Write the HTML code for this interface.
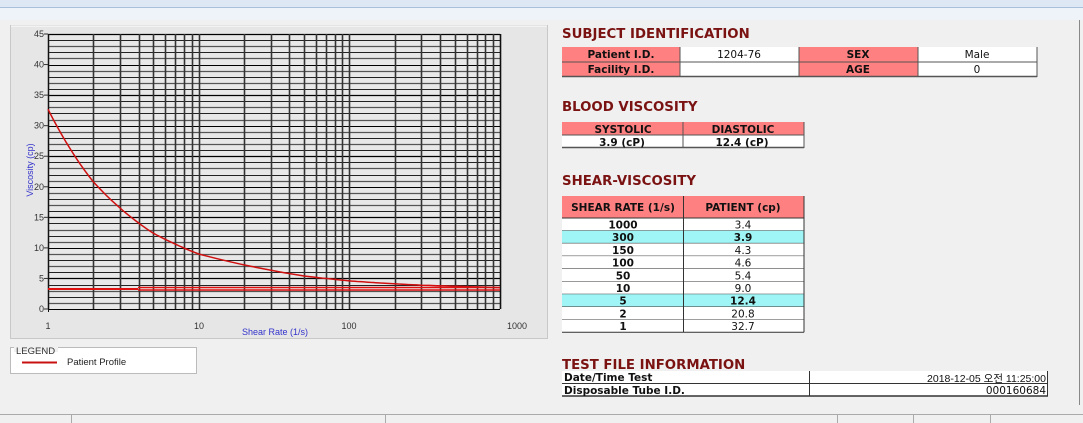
<!DOCTYPE html>
<html><head><meta charset="utf-8"><style>
html,body{margin:0;padding:0;background:#f0f0f0;}
svg{display:block;}
.t{font-family:"DejaVu Sans",Verdana,sans-serif;font-weight:bold;fill:#7a1212;font-size:13.3px;}
.c{font-family:"DejaVu Sans",Verdana,sans-serif;font-size:10.5px;fill:#111;}
.b{font-weight:bold;}
.ax{font-family:"Liberation Sans",sans-serif;font-size:9px;fill:#333;}
</style></head><body>
<svg width="1083" height="423" xmlns="http://www.w3.org/2000/svg">
<rect x="0" y="0" width="1083" height="8" fill="#dde8f4"/>
<line x1="0" y1="7.5" x2="1083" y2="7.5" stroke="#a9c0da"/>
<rect x="0" y="8" width="1083" height="12" fill="#eef3f9"/>
<rect x="0" y="20" width="1083" height="395" fill="#f0f0f0"/>
<line x1="1079.5" y1="20" x2="1079.5" y2="405" stroke="#888"/>
<!-- chart panel -->
<rect x="10.5" y="25.5" width="537" height="313" fill="#e6e6e6" stroke="#c8c8c8"/>
<line x1="11" y1="26" x2="547" y2="26" stroke="#fff"/>
<rect x="48" y="34" width="452" height="275" fill="#e8e8e8"/>
<g id="grid"></g>
<g class="ax" text-anchor="end" id="ylab"></g>
<g class="ax" text-anchor="middle">
<text x="48" y="329">1</text><text x="199" y="329">10</text><text x="349" y="329">100</text><text x="527" y="329" text-anchor="end">1000</text>
</g>
<text x="275" y="335" font-family="Liberation Sans,sans-serif" font-size="9" fill="#3333cc" text-anchor="middle">Shear Rate (1/s)</text>
<text transform="translate(33,170) rotate(-90)" font-family="Liberation Sans,sans-serif" font-size="9" fill="#3333cc" text-anchor="middle">Viscosity (cp)</text>
<line x1="48" y1="289" x2="138" y2="289" stroke="#e01010" stroke-width="2"/>
<line x1="138" y1="287.5" x2="500" y2="287.5" stroke="#e01010" stroke-width="1.5"/>
<line x1="138" y1="290" x2="500" y2="290" stroke="#e01010" stroke-width="1.5"/>
<path id="curve" fill="none" stroke="#d01010" stroke-width="1.5"/>
<!-- legend -->
<rect x="10.5" y="347.5" width="186" height="26" fill="#fff" stroke="#bbb"/>
<rect x="14" y="344" width="44" height="8" fill="#f0f0f0"/>
<text x="16" y="354" font-family="Liberation Sans,sans-serif" font-size="9.5" fill="#333">LEGEND</text>
<line x1="22" y1="362.5" x2="57" y2="362.5" stroke="#c81010" stroke-width="2"/>
<text x="67" y="365" font-family="Liberation Sans,sans-serif" font-size="9.5" fill="#222">Patient Profile</text>
<!-- right side -->
<text class="t" x="562" y="38">SUBJECT IDENTIFICATION</text>
<g>
<rect x="562" y="47" width="118" height="30" fill="#ff8080"/>
<rect x="680" y="47" width="119" height="30" fill="#fff"/>
<rect x="799" y="47" width="119" height="30" fill="#ff8080"/>
<rect x="918" y="47" width="119" height="30" fill="#fff"/>
<g stroke="#555" stroke-width="1">
<line x1="562" y1="62" x2="1037" y2="62"/><line x1="562" y1="76.5" x2="1037" y2="76.5" stroke-width="1.5"/>
<line x1="680" y1="47" x2="680" y2="77"/><line x1="799" y1="47" x2="799" y2="77"/><line x1="918" y1="47" x2="918" y2="77"/><line x1="1037" y1="47" x2="1037" y2="77"/>
</g>
<g class="c" text-anchor="middle">
<text x="621" y="58" class="b">Patient I.D.</text><text x="739" y="58">1204-76</text><text x="858" y="58" class="b">SEX</text><text x="977" y="58">Male</text>
<text x="621" y="73" class="b">Facility I.D.</text><text x="858" y="73" class="b">AGE</text><text x="977" y="73">0</text>
</g></g>
<text class="t" x="562" y="111">BLOOD VISCOSITY</text>
<rect x="562" y="122" width="242" height="13" fill="#ff8080"/>
<rect x="562" y="135" width="242" height="13" fill="#fff"/>
<g stroke="#555"><line x1="562" y1="135" x2="804" y2="135"/><line x1="562" y1="147.5" x2="804" y2="147.5" stroke-width="1.5"/><line x1="683" y1="122" x2="683" y2="148"/><line x1="804" y1="122" x2="804" y2="148"/></g>
<g class="c b" text-anchor="middle"><text x="623" y="133">SYSTOLIC</text><text x="743" y="133">DIASTOLIC</text><text x="622" y="146">3.9 (cP)</text><text x="742" y="146">12.4 (cP)</text></g>
<text class="t" x="562" y="185">SHEAR-VISCOSITY</text>
<rect x="562" y="196" width="242" height="22" fill="#ff8080"/>
<g id="rows"></g>
<g class="c b" text-anchor="middle"><text x="623" y="211">SHEAR RATE (1/s)</text><text x="743" y="211">PATIENT (cp)</text></g>
<text class="t" x="562" y="369">TEST FILE INFORMATION</text>
<rect x="562" y="371" width="486" height="25" fill="#fff"/>
<g stroke="#333"><line x1="562" y1="383.5" x2="1048" y2="383.5"/><line x1="562" y1="396" x2="1048" y2="396" stroke-width="1.5"/><line x1="809.5" y1="371" x2="809.5" y2="396"/><line x1="1047.5" y1="371" x2="1047.5" y2="396"/></g>
<g class="c b"><text x="564" y="381">Date/Time Test</text><text x="564" y="394">Disposable Tube I.D.</text></g>
<g class="c" text-anchor="end" fill="#444"><text x="1046" y="382" font-family="Liberation Sans,'Noto Sans CJK KR',sans-serif">2018-12-05   오전 11:25:00</text><text x="1046" y="394">000160684</text></g>
<!-- status bar -->
<line x1="0" y1="414.5" x2="1083" y2="414.5" stroke="#aaa"/>
<g stroke="#aaa"><line x1="71.5" y1="415" x2="71.5" y2="423"/><line x1="385.5" y1="415" x2="385.5" y2="423"/><line x1="837.5" y1="415" x2="837.5" y2="423"/><line x1="913.5" y1="415" x2="913.5" y2="423"/><line x1="990.5" y1="415" x2="990.5" y2="423"/></g>
</svg>
<script>
var NS="http://www.w3.org/2000/svg";
function el(p,t,a,txt){var e=document.createElementNS(NS,t);for(var k in a)e.setAttribute(k,a[k]);if(txt!=null)e.textContent=txt;p.appendChild(e);return e;}
var g=document.getElementById('grid');
function X(s){return 48+Math.log10(s)*150.67;}
function Y(v){return 309-v*6.111;}
for(var v=0;v<=45;v++){var y=Math.round(Y(v))+0.5;el(g,'line',{x1:48,x2:500,y1:y,y2:y,stroke:v%5==0?'#000':(v%2?'#555':'#222'),'stroke-width':v%2?1.3:1.1});}
for(var d=0;d<3;d++)for(var k=1;k<=9;k++){var x=Math.round(X(k*Math.pow(10,d)))+0.5;el(g,'line',{x1:x,x2:x,y1:34,y2:309,stroke:'#333','stroke-width':1.6});}
el(g,'line',{x1:500.5,x2:500.5,y1:34,y2:309,stroke:'#111','stroke-width':1.6});
el(g,'line',{x1:48.5,x2:48.5,y1:34,y2:312,stroke:'#111'});
var yl=document.getElementById('ylab');
for(var v=0;v<=45;v+=5){el(yl,'text',{x:44,y:Y(v)+3},String(v));el(yl,'line',{x1:44,x2:48,y1:Y(v),y2:Y(v),stroke:'#333'});}
var pts=[[1,32.7],[2,20.8],[5,12.4],[10,9.0],[50,5.4],[100,4.6],[150,4.3],[300,3.9],[1000,3.5]];
var d="";
for(var i=0;i<pts.length-1;i++){var a=pts[i],b=pts[i+1];for(var j=0;j<=10;j++){var t=j/10;var ls=Math.log(a[0])+(Math.log(b[0])-Math.log(a[0]))*t;var lv=Math.log(a[1])+(Math.log(b[1])-Math.log(a[1]))*t;var s=Math.exp(ls),vv=Math.exp(lv);d+=(d?" L":"M")+X(s).toFixed(1)+" "+Y(vv).toFixed(1);}}
document.getElementById('curve').setAttribute('d',d);
var rows=[["1000","3.4"],["300","3.9",1],["150","4.3"],["100","4.6"],["50","5.4"],["10","9.0"],["5","12.4",1],["2","20.8"],["1","32.7"]];
var R=document.getElementById('rows');var y0=218,h=12.7;
rows.forEach(function(r,i){var y=y0+i*h;el(R,'rect',{x:562,y:y,width:242,height:h,fill:r[2]?'#9ff5f5':'#fff'});
el(R,'line',{x1:562,x2:804,y1:y+h,y2:y+h,stroke:'#333'});
el(R,'text',{x:623,y:y+10.5,'text-anchor':'middle','class':'c b'},r[0]);
el(R,'text',{x:743,y:y+10.5,'text-anchor':'middle','class':'c'+(r[2]?' b':''),fill:r[2]?'#111':'#444'},r[1]);});
el(R,'line',{x1:683.5,x2:683.5,y1:196,y2:y0+9*h,stroke:'#333'});
el(R,'line',{x1:804,x2:804,y1:196,y2:y0+9*h,stroke:'#333'});
el(R,'line',{x1:562,x2:804,y1:218,y2:218,stroke:'#333'});
</script>
</body></html>
